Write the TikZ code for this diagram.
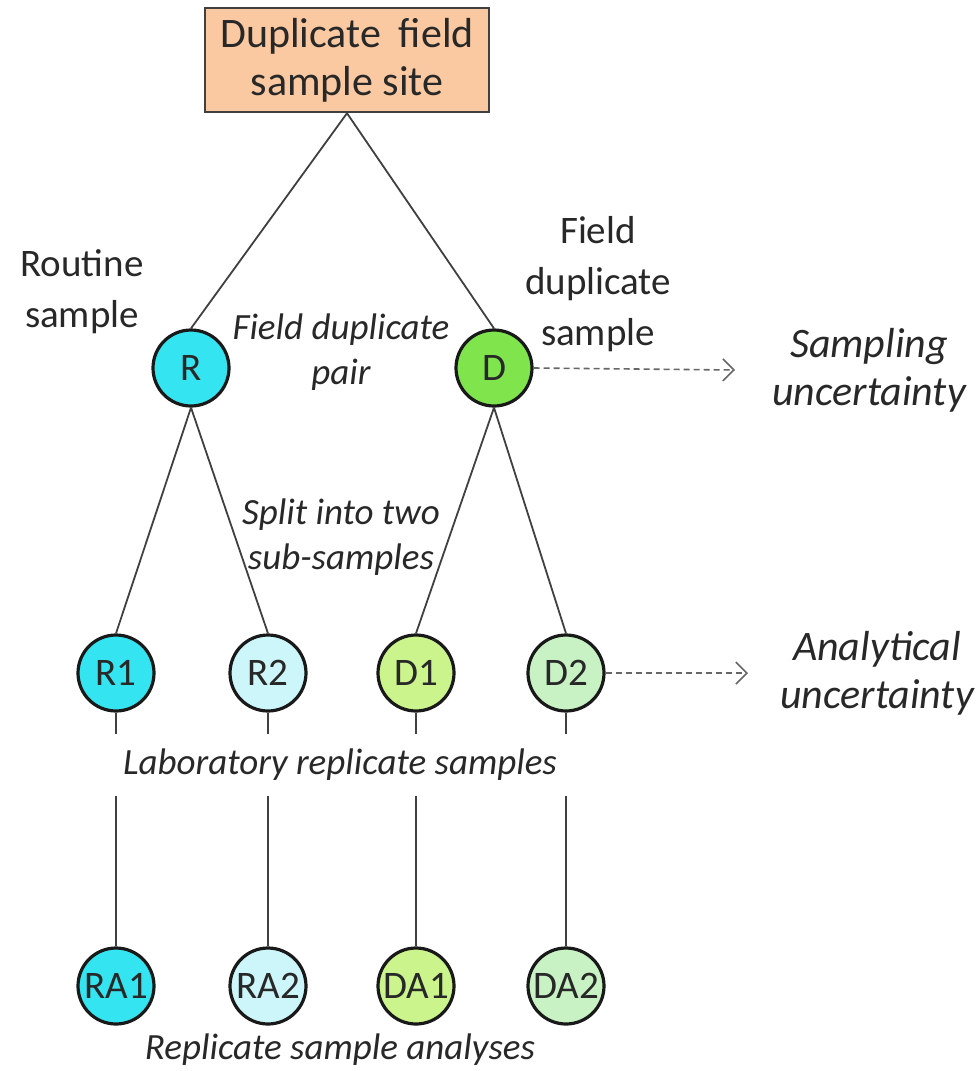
\documentclass[tikz,border=0pt]{standalone}
\usepackage{fontspec}
\setmainfont{Carlito}
\usetikzlibrary{arrows.meta}

\definecolor{sitefill}{RGB}{250,201,161}
\definecolor{rdark}{RGB}{52,228,240}
\definecolor{rlight}{RGB}{204,246,250}
\definecolor{ddark}{RGB}{128,228,76}
\definecolor{dmid}{RGB}{204,244,140}
\definecolor{dlight}{RGB}{200,242,196}
\definecolor{inkgray}{RGB}{40,40,40}

\begin{document}
\begin{tikzpicture}[x=1pt,y=-1pt,
  sample/.style={circle, draw=black!90, line width=3.2pt, minimum size=76pt,
    inner sep=0pt, text=inkgray, font=\fontsize{39}{41}\selectfont},
  sitebox/.style={draw=black!75, line width=2.4pt, fill=sitefill,
    minimum width=284pt, minimum height=104pt, align=center,
    text=inkgray, font=\fontsize{42}{48}\selectfont},
  plainlabel/.style={align=center, text=inkgray, inner sep=0pt,
    font=\fontsize{39}{51}\selectfont},
  notelabel/.style={align=center, text=inkgray, inner sep=0pt,
    font=\fontsize{37}{45}\selectfont\itshape},
  sidelabel/.style={align=center, text=inkgray, inner sep=0pt,
    font=\fontsize{42}{48}\selectfont\itshape},
  link/.style={draw=black!75, line width=1.8pt},
  toward/.style={draw=black!60, line width=1.6pt, dash pattern=on 6pt off 4pt,
    -{Straight Barb[length=11pt, width=22pt, line width=1.6pt]}},
]
\useasboundingbox (0,0) rectangle (979,1071);

% site box
\node[sitebox] (site) at (347,60) {Duplicate\hspace{0.2em} field\\sample site};

% first split: routine and duplicate
\node[sample, fill=rdark] (R) at (191,368) {R};
\node[sample, fill=ddark] (D) at (494,368) {D};

% laboratory replicates
\node[sample, fill=rdark]  (R1) at (116,673) {R1};
\node[sample, fill=rlight] (R2) at (268,673) {R2};
\node[sample, fill=dmid]   (D1) at (416,673) {D1};
\node[sample, fill=dlight] (D2) at (566,673) {D2};

% analyses
\node[sample, fill=rdark]  (RA1) at (116,986) {RA1};
\node[sample, fill=rlight] (RA2) at (268,986) {RA2};
\node[sample, fill=dmid]   (DA1) at (416,986) {DA1};
\node[sample, fill=dlight] (DA2) at (566,986) {DA2};

% tree connectors
\draw[link] (site.south) -- (R.north);
\draw[link] (site.south) -- (D.north);
\draw[link] (R.south) -- (R1.north);
\draw[link] (R.south) -- (R2.north);
\draw[link] (D.south) -- (D1.north);
\draw[link] (D.south) -- (D2.north);
\draw[link] (R1.south) -- (RA1.north);
\draw[link] (R2.south) -- (RA2.north);
\draw[link] (D1.south) -- (DA1.north);
\draw[link] (D2.south) -- (DA2.north);

% band label interrupting the vertical connectors
\node[fill=white, minimum width=480pt, minimum height=62pt, inner sep=0pt,
  text=inkgray, font=\fontsize{37}{45}\selectfont\itshape]
  (lab) at (340,765) {Laboratory replicate samples};

% descriptive labels
\node[plainlabel] (routine) at (82,292) {Routine\\sample};
\node[plainlabel] (fielddup) at (598,284) {Field\\duplicate\\sample};
\node[notelabel] (pair) at (341,352) {Field duplicate\\pair};
\node[notelabel] (split) at (341,537) {Split into two\\sub-samples};
\node[notelabel] (analyses) at (340,1050) {Replicate sample analyses};

% uncertainty sources
\node[sidelabel] (sampunc) at (869,370) {Sampling\\uncertainty};
\node[sidelabel] (anaunc) at (877,673) {Analytical\\uncertainty};

\coordinate (sampend) at (735,370);
\coordinate (anaend) at (748,673);
\draw[toward] (D.east) -- (sampend);
\draw[toward] (D2.east) -- (anaend);
\end{tikzpicture}
\end{document}
